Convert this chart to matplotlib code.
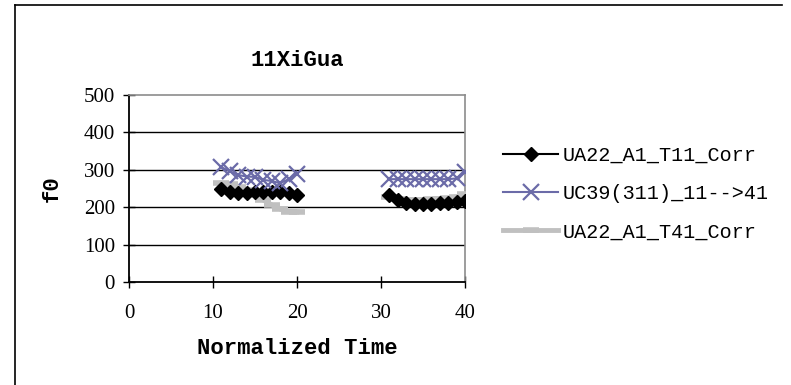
import matplotlib
matplotlib.use("Agg")
import matplotlib.pyplot as plt
from matplotlib.lines import Line2D

# Normalized time positions (two syllable windows)
time_a = [11, 12, 13, 14, 15, 16, 17, 18, 19, 20]
time_b = [31, 32, 33, 34, 35, 36, 37, 38, 39, 40]

# f0 contours
t11_a = [248, 240, 239, 239, 241, 241, 241, 240, 237, 232]
t11_b = [233, 220, 210, 209, 209, 209, 210, 212, 214, 217]

uc39_a = [307, 296, 286, 282, 281, 273, 270, 264, 275, 290]
uc39_b = [275, 275, 275, 275, 275, 275, 275, 275, 277, 294]

t41_a = [264, 261, 255, 246, 233, 219, 206, 195, 188, 187]
t41_b = [227, 221, 218, 218, 220, 221, 222, 224, 228, 235]

series_labels = ["UA22_A1_T11_Corr", "UC39(311)_11-->41", "UA22_A1_T41_Corr"]
y_ticks = [0, 100, 200, 300, 400, 500]
x_ticks = [0, 10, 20, 30, 40]

W, H = 791, 385
fig = plt.figure(figsize=(W / 100, H / 100), dpi=100)
fig.patch.set_facecolor("white")

# outer chart frame (top and left edges)
fig.add_artist(Line2D([15 / W, 782 / W], [1 - 5 / H, 1 - 5 / H], color="black", lw=1.2))
fig.add_artist(Line2D([15 / W, 15 / W], [1 - 5 / H, 0], color="black", lw=1.2))

ax = fig.add_axes([129 / W, 1 - 282 / H, 336 / W, 187 / H])
ax.set_xlim(0, 40)
ax.set_ylim(0, 500)

mono = "Liberation Mono"

for yv in y_ticks[1:-1]:
    ax.axhline(yv, color="black", lw=1.0, zorder=1)

for s in ["top", "right"]:
    ax.spines[s].set_color("#8c8c8c")
    ax.spines[s].set_linewidth(1.2)
for s in ["left", "bottom"]:
    ax.spines[s].set_color("black")
    ax.spines[s].set_linewidth(1.3)

black_kw = dict(color="black", marker="D", markersize=7.5, lw=1.5, zorder=4)
blue_kw = dict(color="#6b6ba8", marker="x", markersize=11, mew=1.6, lw=1.5, zorder=5)
gray_kw = dict(color="#c0c0c0", marker="_", markersize=11, mew=4, lw=3.5, zorder=3)

ax.plot(time_a, t41_a, **gray_kw)
ax.plot(time_b, t41_b, **gray_kw)
ax.plot(time_a, t11_a, **black_kw)
ax.plot(time_b, t11_b, **black_kw)
ax.plot(time_a, uc39_a, **blue_kw)
ax.plot(time_b, uc39_b, **blue_kw)

ax.set_xticks(x_ticks)
ax.set_yticks(y_ticks)
ax.tick_params(axis="both", direction="inout", length=8, width=1, colors="black")
ax.tick_params(axis="x", pad=12)
ax.tick_params(axis="y", pad=6)
for lab in ax.get_xticklabels() + ax.get_yticklabels():
    lab.set_family("Liberation Serif")
    lab.set_fontsize(15)

ax.set_title("11XiGua", family=mono, fontweight="bold", fontsize=16, pad=21)
ax.set_xlabel("Normalized Time", family=mono, fontweight="bold", fontsize=16, labelpad=11)
ax.set_ylabel("f0", family=mono, fontweight="bold", fontsize=16, labelpad=15)

handles = [
    Line2D([], [], **{k: v for k, v in black_kw.items() if k != "zorder"}),
    Line2D([], [], **{k: v for k, v in blue_kw.items() if k != "zorder"}),
    Line2D([], [], **{k: v for k, v in gray_kw.items() if k != "zorder"}),
]
fig.legend(handles, series_labels, loc="upper left",
           bbox_to_anchor=(495 / W, 1 - 138 / H), frameon=False,
           prop={"family": mono, "size": 14.5}, handlelength=2.75,
           handletextpad=0.2, labelspacing=0.95, borderaxespad=0)

fig.savefig("out.png", dpi=100, facecolor="white")
